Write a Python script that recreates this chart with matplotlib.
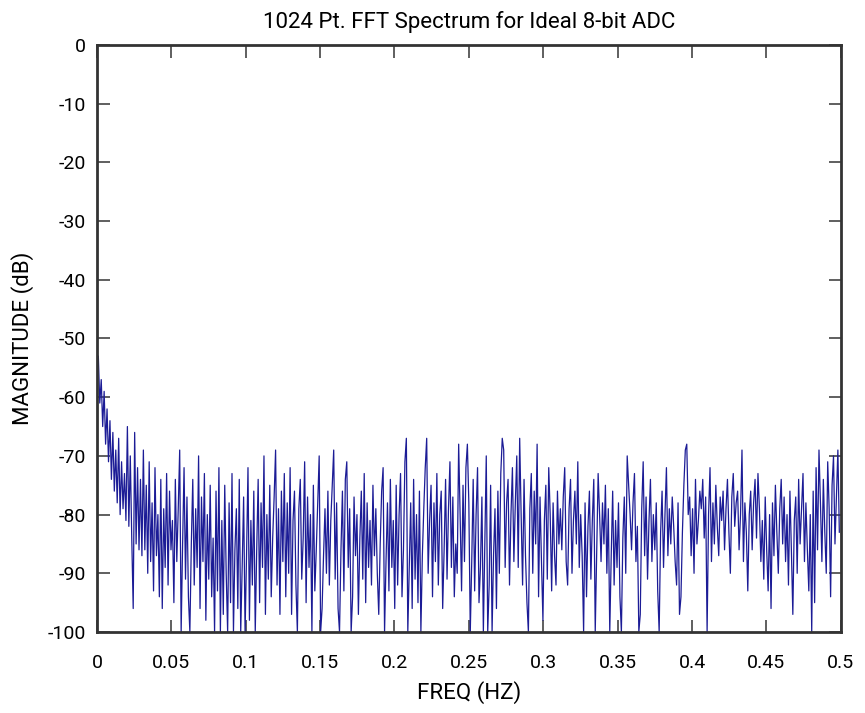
import numpy as np
import matplotlib
matplotlib.use("Agg")
import matplotlib.pyplot as plt

plt.rcParams['font.family'] = ['Roboto', 'DejaVu Sans']
plt.rcParams['axes.unicode_minus'] = False

# Magnitude values (dB), 512 bins, f = k/1024
mag_db = [
    # 0.000 - 0.030
    -56, -53, -61, -57, -65, -59, -68, -62, -71, -64, -74, -66, -76, -69, -78, -67,
    -80, -71, -79, -73, -81, -65, -82, -70, -84, -96, -66, -85, -72, -86, -74, -87,
    # 0.031 - 0.061
    -69, -86, -75, -90, -71, -88, -78, -93, -72, -87, -80, -94, -74, -96, -79, -89,
    -73, -92, -76, -86, -81, -95, -74, -88, -79, -69, -100, -85, -72, -91, -77, -94,
    # 0.0625 - 0.092
    -100, -85, -74, -92, -79, -89, -70, -96, -77, -88, -73, -98, -80, -91, -75, -94,
    -84, -100, -76, -93, -72, -100, -81, -97, -75, -90, -100, -78, -95, -73, -100, -86,
    # 0.094 - 0.123
    -79, -96, -74, -100, -89, -77, -100, -87, -72, -98, -81, -92, -76, -100, -86, -74,
    -95, -78, -89, -70, -97, -80, -91, -75, -94, -84, -77, -69, -92, -79, -97, -76,
    # 0.125 - 0.155
    -88, -73, -94, -78, -90, -72, -97, -81, -76, -92, -100, -79, -74, -91, -84, -71,
    -95, -77, -89, -80, -100, -75, -93, -86, -78, -70, -100, -96, -87, -79, -90, -76,
    # 0.156 - 0.186
    -92, -81, -75, -69, -91, -78, -96, -100, -86, -76, -93, -74, -71, -89, -79, -100,
    -94, -77, -87, -80, -97, -84, -76, -91, -73, -95, -78, -89, -81, -92, -75, -87,
    # 0.1875 - 0.217
    -79, -90, -97, -85, -76, -72, -100, -88, -78, -93, -74, -89, -81, -96, -75, -92,
    -80, -73, -94, -86, -71, -67, -100, -89, -78, -96, -74, -91, -80, -95, -76, -100,
    # 0.219 - 0.249
    -87, -79, -72, -67, -90, -81, -75, -94, -78, -88, -73, -92, -80, -76, -96, -86,
    -74, -91, -79, -71, -89, -77, -94, -85, -90, -68, -80, -93, -75, -88, -72, -68,
    # 0.25 - 0.28
    -78, -100, -88, -74, -93, -80, -72, -95, -89, -77, -100, -85, -70, -100, -92, -75,
    -100, -87, -79, -96, -76, -90, -73, -67, -69, -89, -78, -74, -92, -80, -72, -88,
    # 0.281 - 0.311
    -78, -70, -89, -67, -80, -92, -74, -87, -95, -100, -79, -73, -90, -76, -85, -68,
    -94, -77, -88, -98, -81, -75, -91, -72, -80, -93, -78, -87, -92, -76, -85, -79,
    # 0.3125 - 0.342
    -86, -77, -72, -88, -92, -79, -74, -90, -81, -76, -85, -71, -89, -80, -87, -100,
    -78, -94, -82, -76, -91, -81, -74, -100, -86, -73, -80, -88, -78, -85, -75, -90,
    # 0.344 - 0.374
    -79, -100, -87, -76, -92, -81, -89, -78, -94, -100, -84, -77, -90, -70, -75, -80,
    -86, -78, -73, -88, -82, -100, -97, -79, -71, -87, -77, -91, -81, -74, -88, -80,
    # 0.375 - 0.405
    -86, -78, -93, -100, -83, -76, -89, -80, -72, -87, -79, -85, -77, -82, -88, -92,
    -78, -97, -94, -83, -75, -69, -68, -80, -77, -87, -79, -90, -74, -85, -81, -76,
    # 0.406 - 0.436
    -79, -74, -84, -77, -100, -80, -72, -88, -78, -85, -75, -82, -87, -77, -81, -76,
    -86, -79, -74, -83, -90, -77, -73, -82, -78, -76, -86, -80, -69, -88, -78, -83,
    # 0.4375 - 0.467
    -93, -80, -76, -86, -78, -74, -84, -73, -79, -88, -81, -91, -77, -86, -93, -80,
    -96, -78, -87, -75, -83, -90, -79, -74, -85, -77, -88, -80, -92, -76, -86, -97,
    # 0.469 - 0.499
    -81, -77, -90, -74, -85, -79, -73, -88, -78, -86, -93, -80, -100, -76, -95, -72,
    -86, -69, -78, -88, -74, -83, -90, -71, -79, -94, -75, -70, -85, -77, -69, -83,
]
n_fft = 1024
freq = np.arange(len(mag_db)) / n_fft

x_ticks = [0, 0.05, 0.1, 0.15, 0.2, 0.25, 0.3, 0.35, 0.4, 0.45, 0.5]
x_tick_labels = ["0", "0.05", "0.1", "0.15", "0.2", "0.25", "0.3", "0.35", "0.4", "0.45", "0.5"]
y_ticks = [0, -10, -20, -30, -40, -50, -60, -70, -80, -90, -100]

fig = plt.figure(figsize=(8.65, 7.13), dpi=100)
ax = fig.add_axes([0.112, 0.1136, 0.860, 0.8233])
ax.plot(freq, mag_db, color='#1c1c96', lw=0.9)

ax.set_xlim(0, 0.5)
ax.set_ylim(-100, 0)
ax.set_xticks(x_ticks)
ax.set_xticklabels(x_tick_labels)
ax.set_yticks(y_ticks)
ax.tick_params(direction='in', length=9, width=1.2, color='#444444',
               top=True, right=True, labelsize=14)
ax.tick_params(axis='x', pad=16)
ax.tick_params(axis='y', pad=8)
for s in ax.spines.values():
    s.set_linewidth(2)
    s.set_color('#333333')

ax.set_title("1024 Pt. FFT Spectrum for Ideal 8-bit ADC", fontsize=16, pad=12)
ax.set_xlabel("FREQ (HZ)", fontsize=16, labelpad=6)
ax.set_ylabel("MAGNITUDE (dB)", fontsize=16, labelpad=10)

fig.savefig("out.png", dpi=100)
